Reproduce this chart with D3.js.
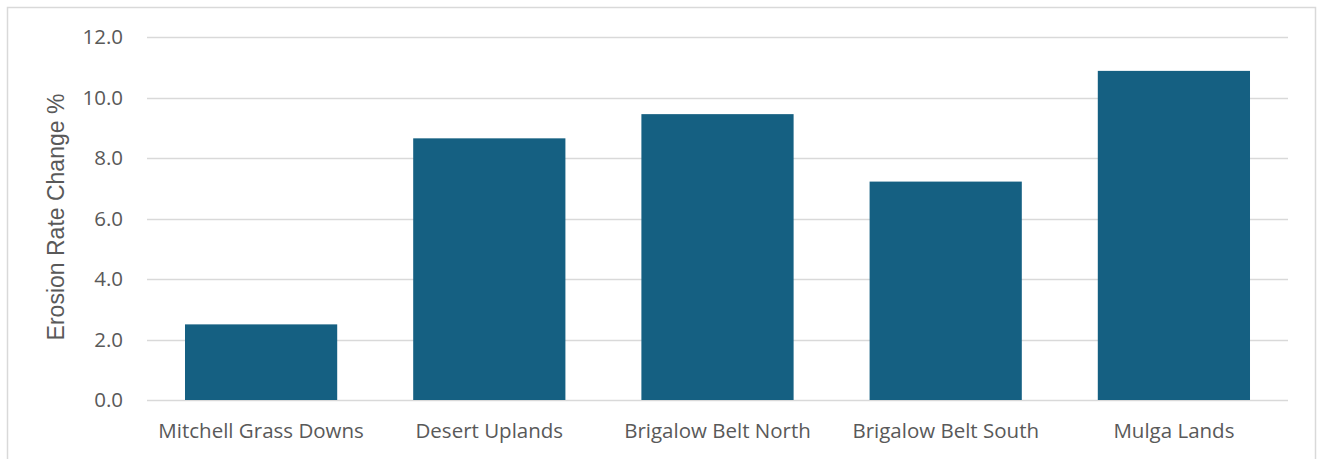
<!DOCTYPE html>
<html>
<head>
<meta charset="utf-8">
<script src="https://cdn.jsdelivr.net/npm/d3@7"></script>
<style>
    body { margin: 0; background: #fff; }
    svg text { fill: #595959; }
</style>
</head>
<body>
<svg id="chart" width="1319" height="459"></svg>
<script>
// chart data
var regions = ["Mitchell Grass Downs", "Desert Uplands", "Brigalow Belt North", "Brigalow Belt South", "Mulga Lands"];
var erosionChange = [2.5, 8.65, 9.45, 7.22, 10.88];
var yTicks = [0, 2, 4, 6, 8, 10, 12];

var svg = d3.select("#chart"),
    width = +svg.attr("width"),
    height = +svg.attr("height");

// outer chart border
svg.append("rect")
    .attr("x", 7.5).attr("y", 7.5)
    .attr("width", 1308).attr("height", 470)
    .attr("fill", "none")
    .attr("stroke", "#d9d9d9")
    .attr("stroke-width", 1.5);

var margin = { left: 147, right: 31, top: 37, bottom: 59 };

var x = d3.scaleBand()
    .domain(regions)
    .range([margin.left, width - margin.right])
    .paddingInner(0.333)
    .paddingOuter(0.1665);

var y = d3.scaleLinear()
    .domain([0, 12])
    .range([height - margin.bottom, margin.top]);

// gridlines
svg.append("g")
    .selectAll("line")
    .data(yTicks)
    .enter().append("line")
    .attr("x1", margin.left)
    .attr("x2", width - margin.right)
    .attr("y1", function (d) { return Math.round(y(d)) + 0.5; })
    .attr("y2", function (d) { return Math.round(y(d)) + 0.5; })
    .attr("stroke", "#d9d9d9")
    .attr("stroke-width", 1.5);

// bars
svg.append("g")
    .selectAll("rect")
    .data(erosionChange)
    .enter().append("rect")
    .attr("x", function (d, i) { return x(regions[i]); })
    .attr("width", x.bandwidth())
    .attr("y", function (d) { return y(d); })
    .attr("height", function (d) { return y(0) - y(d); })
    .attr("fill", "#156082");

// y axis labels
var yAxis = d3.axisLeft(y).tickValues(yTicks).tickFormat(d3.format(".1f")).tickSize(0).tickPadding(24);
svg.append("g")
    .attr("transform", "translate(" + margin.left + ",0)")
    .call(yAxis)
    .call(function (g) { g.select(".domain").remove(); })
    .selectAll("text")
    .style("font-family", "'Open Sans', sans-serif")
    .style("font-size", "20.5px")
    .attr("fill", "#595959");

// x axis labels
var xAxis = d3.axisBottom(x).tickSize(0).tickPadding(23);
svg.append("g")
    .attr("transform", "translate(0," + y(0) + ")")
    .call(xAxis)
    .call(function (g) { g.select(".domain").remove(); })
    .selectAll("text")
    .style("font-family", "'Open Sans', sans-serif")
    .style("font-size", "20.5px")
    .attr("fill", "#595959");

// axis title
svg.append("text")
    .attr("transform", "translate(64," + 217 + ") rotate(-90)")
    .attr("text-anchor", "middle")
    .style("font-family", "'Liberation Sans', Arial, sans-serif")
    .style("font-size", "23px")
    .text("Erosion Rate Change %");
</script>
</body>
</html>
